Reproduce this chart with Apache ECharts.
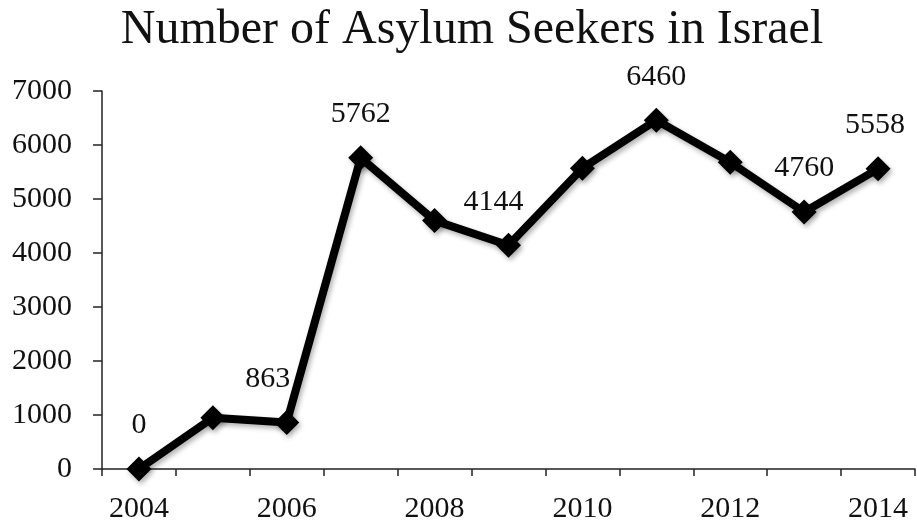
<!DOCTYPE html>
<html>
<head>
<meta charset="utf-8">
<style>
html,body{margin:0;padding:0;background:#fff;}
#chart{width:917px;height:526px;}
</style>
<script src="https://cdn.jsdelivr.net/npm/echarts@6/dist/echarts.min.js"></script>
</head>
<body>
<div id="chart"></div>
<script>
const years = ['2004','2005','2006','2007','2008','2009','2010','2011','2012','2013','2014'];
const seekers = [0, 950, 863, 5762, 4600, 4144, 5570, 6460, 5680, 4760, 5558];
const showLabel = [true, false, true, true, false, true, false, true, false, true, true];
const labelShiftX = [0, 0, -19, 0, 0, -15, 0, 0, 0, 0, -3];
const yTicks = [0, 1000, 2000, 3000, 4000, 5000, 6000, 7000];

const font = '"Liberation Serif", "DejaVu Serif", serif';
const chart = echarts.init(document.getElementById('chart'));
chart.setOption({
  animation: false,
  backgroundColor: '#fff',
  title: {
    text: 'Number of Asylum Seekers in Israel',
    left: 467,
    textAlign: 'center',
    top: 1,
    textStyle: {fontFamily: font, fontSize: 48, fontWeight: 'normal', color: '#111'}
  },
  grid: {left: 102, right: 2, top: 91, bottom: 57, containLabel: false},
  xAxis: {
    type: 'category',
    data: years,
    boundaryGap: true,
    axisLine: {lineStyle: {color: '#222', width: 1.5}},
    axisTick: {show: true, length: 7, lineStyle: {color: '#222', width: 1.5}, interval: 0},
    axisLabel: {interval: 1, margin: 25, fontFamily: font, fontSize: 30, color: '#111'},
    splitLine: {show: false}
  },
  yAxis: {
    type: 'value',
    min: yTicks[0],
    max: yTicks[yTicks.length - 1],
    interval: 1000,
    axisLine: {show: true, lineStyle: {color: '#222', width: 1.5}},
    axisTick: {show: true, length: 9, lineStyle: {color: '#222', width: 1.5}},
    axisLabel: {margin: 30, fontFamily: font, fontSize: 30, color: '#111', formatter: v => String(v)},
    splitLine: {show: false}
  },
  series: [{
    type: 'line',
    data: seekers.map((v, i) => ({
      value: v,
      label: {show: showLabel[i], offset: [labelShiftX[i], 0]}
    })),
    symbol: 'diamond',
    symbolSize: 25,
    showAllSymbol: true,
    lineStyle: {color: '#000', width: 8, shadowColor: 'rgba(0,0,0,0.3)', shadowBlur: 5, shadowOffsetX: 2, shadowOffsetY: 3},
    itemStyle: {color: '#000', shadowColor: 'rgba(0,0,0,0.3)', shadowBlur: 5, shadowOffsetX: 2, shadowOffsetY: 3},
    label: {
      position: 'top',
      distance: 16,
      fontFamily: font,
      fontSize: 30,
      color: '#111'
    }
  }]
});
</script>
</body>
</html>
